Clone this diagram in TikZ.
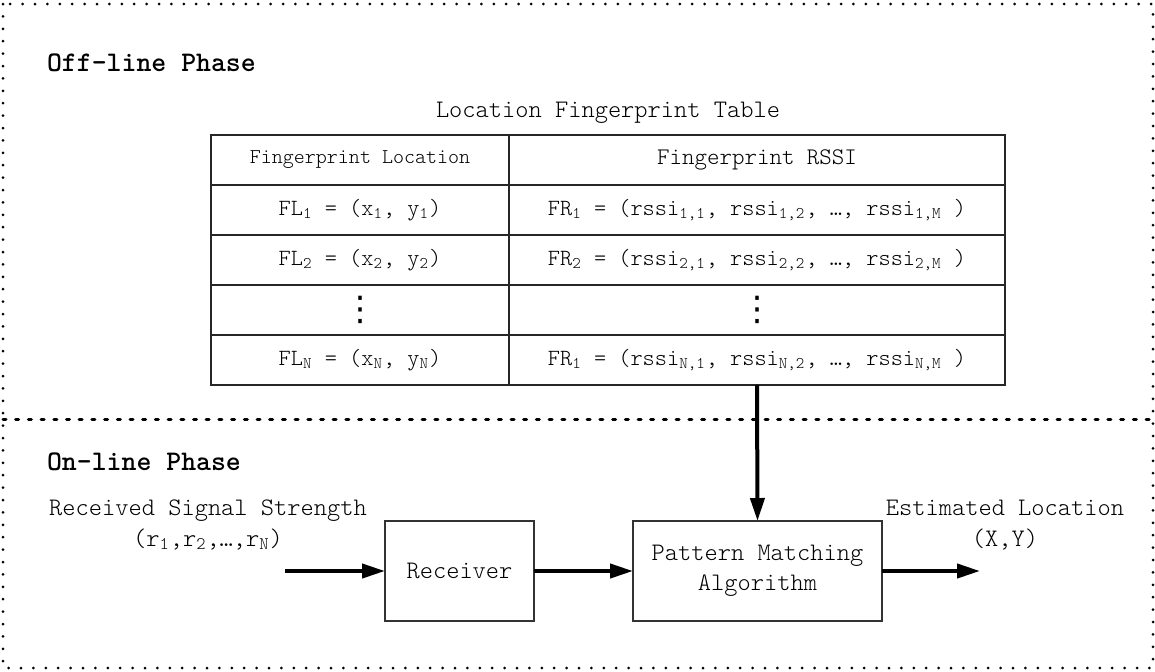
\documentclass[tikz,border=0pt]{standalone}
\usepackage{fontspec}
\newfontfamily\dotsfont{DejaVu Sans}
\usetikzlibrary{arrows.meta,positioning}

% typewriter text in the light cut, subscripts and elided rows
\newcommand{\tw}[1]{\fontfamily{lmtt}\fontseries{l}\fontsize{#1}{1.2\dimexpr#1pt\relax}\selectfont}
\newcommand{\sub}[1]{\textsubscript{#1}}
\newcommand{\rowvdots}{{\dotsfont\fontsize{17}{17}\selectfont ⋮}}

\begin{document}
\begin{tikzpicture}[x=0.5pt, y=-0.5pt,
  font=\tw{12.6}, >={Triangle[length=11.5pt,width=7pt]},
  phase/.style={font=\fontfamily{lmtt}\bfseries\fontsize{14.2}{16}\selectfont, anchor=west},
  cell/.style={draw=black!85, line width=0.6pt, outer sep=0pt, inner sep=0pt,
    minimum height=25pt, font=\tw{11.6}},
  lcell/.style={cell, minimum width=149pt},
  rcell/.style={cell, minimum width=248pt},
  block/.style={draw=black!80, line width=0.6pt, minimum height=50pt,
    align=center, outer sep=0pt, font=\tw{12.6}},
  arr/.style={->, line width=2pt},
  frame/.style={line width=1.5pt, line cap=round, dash pattern=on 0pt off 6.2pt},
  divider/.style={line width=1.5pt, line cap=round, dash pattern=on 1.5pt off 4.85pt},
  lbl/.style={align=center},
]
\useasboundingbox (0,0) rectangle (1155,671);

%% Outer frame and phase divider
\draw[frame] (3,4) rectangle (1153,668);
\draw[divider] (3,419) -- (1153,419);

%% Phase titles
\node[phase] (off) at (40,63) {Off-line Phase};
\node[phase] (on) at (40,462) {On-line Phase};

%% Fingerprint table
\node (title) at (608,113) {Location Fingerprint Table};

\node[lcell, font=\tw{10.5}] (hl) at (360,160) {Fingerprint Location};
\node[rcell, font=\tw{11.9}, right=0pt of hl] (hr) {Fingerprint RSSI};

\node[lcell, below=0pt of hl] (l1) {FL\sub{1} = (x\sub{1}, y\sub{1})};
\node[rcell, below=0pt of hr] (r1) {FR\sub{1} = (rssi\sub{1,1}, rssi\sub{1,2}, \textellipsis, rssi\sub{1,M} )};

\node[lcell, below=0pt of l1] (l2) {FL\sub{2} = (x\sub{2}, y\sub{2})};
\node[rcell, below=0pt of r1] (r2) {FR\sub{2} = (rssi\sub{2,1}, rssi\sub{2,2}, \textellipsis, rssi\sub{2,M} )};

\node[lcell, below=0pt of l2] (l3) {\rowvdots};
\node[rcell, below=0pt of r2] (r3) {\rowvdots};

\node[lcell, below=0pt of l3] (lN) {FL\sub{N} = (x\sub{N}, y\sub{N})};
\node[rcell, below=0pt of r3] (rN) {FR\sub{1} = (rssi\sub{N,1}, rssi\sub{N,2}, \textellipsis, rssi\sub{N,M} )};

%% On-line chain
\node[block, minimum width=74.5pt] (recv) at (459.5,571) {Receiver};
\node[block, minimum width=124.5pt, right=49.5pt of recv] (match) {Pattern Matching\\Algorithm};

\coordinate (src) at (285,571);
\coordinate (est) at (980,571);

\node[lbl] (rss) at (208,525) {Received Signal Strength\\(r\sub{1},r\sub{2},\textellipsis,r\sub{N})};
\node[lbl] (loc) at (1005,525) {Estimated Location\\(X,Y)};

%% Arrows
\draw[arr] (src) -- (recv.west);
\draw[arr] (recv.east) -- (match.west);
\draw[arr] (match.east) -- (est);
\draw[arr] (rN.south) -- (match.north);

\end{tikzpicture}
\end{document}
